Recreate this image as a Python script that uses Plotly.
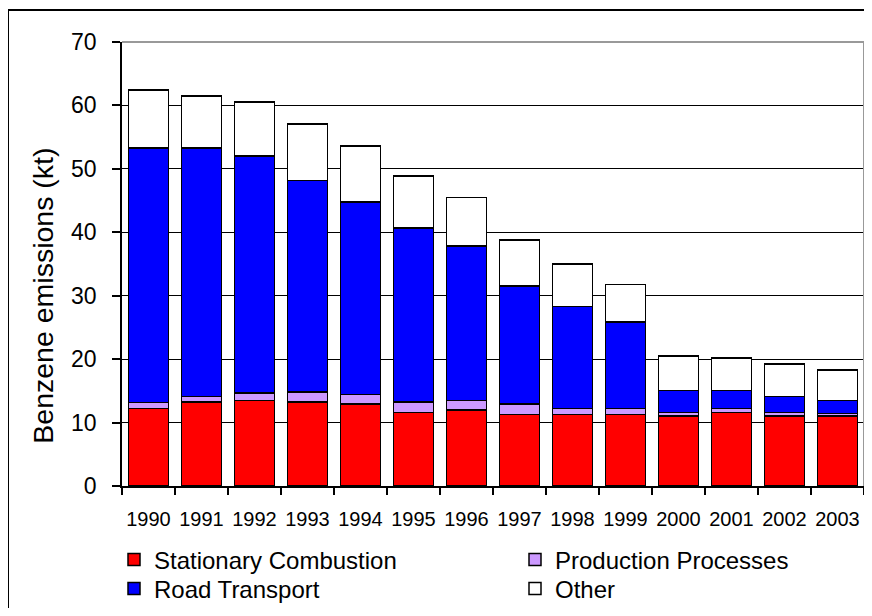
import plotly.graph_objects as go

years = ["1990", "1991", "1992", "1993", "1994", "1995", "1996",
         "1997", "1998", "1999", "2000", "2001", "2002", "2003"]
stationary = [12.25, 13.25, 13.5, 13.25, 12.9, 11.6, 12.0, 11.3, 11.3, 11.3, 11.0, 11.6, 11.0, 11.0]
production = [0.95, 0.85, 1.2, 1.55, 1.55, 1.65, 1.5, 1.6, 0.95, 0.95, 0.6, 0.65, 0.6, 0.4]
road = [40.1, 39.2, 37.35, 33.4, 30.3, 27.4, 24.3, 18.6, 16.05, 13.6, 3.45, 2.8, 2.55, 2.1]
other = [9.1, 8.2, 8.5, 8.9, 8.85, 8.25, 7.7, 7.3, 6.7, 5.95, 5.45, 5.15, 5.1, 4.8]
y_ticks = [0, 10, 20, 30, 40, 50, 60, 70]

FONT = "Liberation Sans, Arial, sans-serif"

series = [
    ("Stationary Combustion", stationary, "#FF0000", "legend"),
    ("Production Processes", production, "#CC99FF", "legend2"),
    ("Road Transport", road, "#0000FF", "legend3"),
    ("Other", other, "#FFFFFF", "legend4"),
]

fig = go.Figure()
for name, vals, col, lg in series:
    fig.add_trace(go.Bar(
        x=years, y=vals, name=name, legend=lg,
        marker=dict(color=col, line=dict(color="black", width=1.5)),
    ))

# page body has an 8px margin: figure origin sits at (8, 8) of the window;
# keep the figure inside the window so no scrollbars appear
OFF = 8
W, H = 872 - 2 * OFF, 616 - 2 * OFF
# plot area in window coordinates
PL, PR, PT, PB = 122, 864, 42, 486.5
L = PL - OFF
T = PT - OFF
R = W - (PR - OFF)
B = H - (PB - OFF)
pw, ph = W - L - R, H - T - B

def px_x(x):
    return (x - PL) / pw

def px_y(y):
    return (PB - y) / ph

def legend_at(x, y):
    return dict(
        x=px_x(x), y=px_y(y),
        orientation="v",
        xanchor="left", yanchor="top",
        font=dict(size=24, family=FONT, color="black"),
        itemclick=False, itemdoubleclick=False,
        bgcolor="rgba(0,0,0,0)",
        borderwidth=0,
    )

fig.update_layout(
    width=W, height=H,
    margin=dict(l=L, r=R, t=T, b=B, pad=0, autoexpand=False),
    barmode="stack",
    bargap=0.245,
    plot_bgcolor="white",
    paper_bgcolor="white",
    font=dict(family=FONT, color="black"),
    showlegend=True,
    legend=legend_at(114, 538),
    legend2=legend_at(515, 538),
    legend3=legend_at(114, 567),
    legend4=legend_at(515, 567),
    xaxis=dict(
        type="category",
        showline=True, linecolor="black", linewidth=1.5,
        ticks="outside", ticklen=7, tickcolor="black", tickwidth=1.5,
        tickson="boundaries",
        tickfont=dict(size=20, family=FONT, color="black"),
        ticklabelstandoff=14,
        showgrid=False,
        tickangle=0,
    ),
    yaxis=dict(
        range=[0, 70],
        tickvals=y_ticks,
        showline=True, linecolor="black", linewidth=1.5,
        ticks="outside", ticklen=8, tickcolor="black", tickwidth=1.5,
        tickfont=dict(size=23, family=FONT, color="black"),
        showgrid=True, gridcolor="black", gridwidth=1.2,
        zeroline=False,
        ticklabelstandoff=11,
    ),
    annotations=[dict(
        text="Benzene emissions (kt)",
        xref="paper", yref="paper",
        x=px_x(43), y=px_y(296),
        xanchor="center", yanchor="middle",
        textangle=-90, showarrow=False,
        font=dict(size=28.5, family=FONT, color="black"),
    )],
    shapes=[
        dict(type="line", xref="paper", yref="paper", x0=0, x1=1, y0=1, y1=1,
             line=dict(color="#999999", width=2), layer="above"),
        dict(type="line", xref="paper", yref="paper", x0=1, x1=1, y0=0, y1=1,
             line=dict(color="#999999", width=2), layer="above"),
        dict(type="line", xref="paper", yref="paper", x0=px_x(8), x1=px_x(900),
             y0=px_y(10), y1=px_y(10), line=dict(color="black", width=2)),
        dict(type="line", xref="paper", yref="paper", x0=px_x(8), x1=px_x(8),
             y0=px_y(10), y1=px_y(640), line=dict(color="black", width=2)),
    ],
)

fig.write_html("out.html")
